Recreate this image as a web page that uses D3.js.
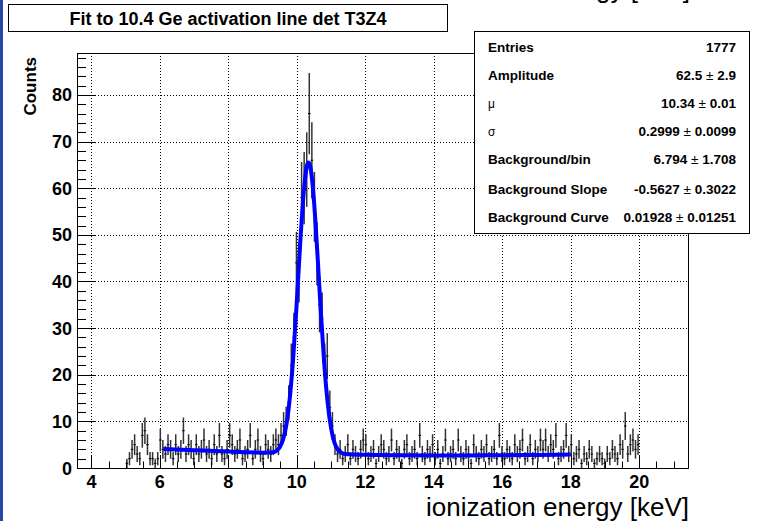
<!DOCTYPE html>
<html><head><meta charset="utf-8">
<script src="https://cdn.jsdelivr.net/npm/d3@7"></script>
<style>body{margin:0;background:#fff}svg{display:block}</style>
</head><body>
<svg id="c" width="759" height="521"></svg>
<script>
// ---------------- data ----------------
const binStart = 5.0;      // keV, low edge of first bin
const binWidth = 0.075;    // keV
const counts = [
  1,2,4,5,3,2,7,8,5,2,2,1,2,
  6,4,3,5,4,2,5,3,4,8,3,5,4,2,5,3,4,6,3,4,2,5,3,7,3,2,4,7,5,3,4,6,2,3,4,7,2,4,6,3,2,5,4,3,5,
  6,5,7,9,10,14,22,28,44,42,58,60,64,76,66,56,46,35,32,22,24,13,9,5,3,4,
  2,3,5,2,4,3,2,4,6,5,2,3,4,1,3,5,
  4,2,3,6,2,4,3,1,4,5,
  2,3,4,2,7,3,2,4,3,5,
  2,4,1,3,6,2,3,4,2,6,
  3,2,4,3,1,5,3,2,4,3,
  5,2,3,4,2,7,3,2,4,3,
  2,5,3,4,6,2,3,5,2,4,
  3,6,4,6,3,5,4,7,2,3,
  4,7,3,5,2,3,4,1,3,2,
  4,3,1,2,3,2,1,3,2,4,
  3,2,5,4,9,3,5,6,4,5
];
// fitted curve (keV, counts)
const fitX = [6.1,7,8,9,9.3,9.4,9.5,9.6,9.7,9.8,9.9,10.0,10.1,10.2,10.3,10.34,10.4,10.5,10.6,10.7,10.8,10.9,11.0,11.1,11.2,11.3,11.4,12,13,14,15,16,17,18];
const fitY = [4.08,3.80,3.53,3.29,3.38,3.67,4.43,6.15,9.56,15.5,24.4,36.0,48.5,59.1,65.0,65.5,64.3,57.2,45.9,33.4,22.3,13.9,8.5,5.4,3.9,3.3,3.0,2.82,2.74,2.70,2.69,2.73,2.80,2.91];

const xTicks = [4,6,8,10,12,14,16,18,20];
const yTicks = [0,10,20,30,40,50,60,70,80];
const titleText = "Fit to 10.4 Ge activation line det T3Z4";
const xTitle = "ionization energy [keV]";
const yTitle = "Counts";
const statsLabels = ["Entries","Amplitude","\u03bc","\u03c3","Background/bin","Background Slope","Background Curve"];
const statsVal = ["1777","62.5","10.34","0.2999","6.794","-0.5627","0.01928"];
const statsErr = [null,"2.9","0.01","0.0099","1.708","0.3022","0.01251"];

// ---------------- layout ----------------
const F = "'Liberation Sans', Arial, Helvetica, sans-serif";
const svg = d3.select("#c");
const L = 77, R = 688, T = 53, B = 468;
const x = d3.scaleLinear().domain([3.58, 21.42]).range([L, R]);
const y = d3.scaleLinear().domain([0, 89]).range([B, T]);

// left blue strip
svg.append("rect").attr("x",0).attr("y",0).attr("width",3).attr("height",521).attr("fill","#2a45a6");

// clipped fragment of label above
svg.append("text").attr("x",690).attr("y",-2.5).attr("text-anchor","end")
  .attr("font-family",F).attr("font-size",26).attr("fill","#000").text(xTitle);

// grid
const g = svg.append("g");
xTicks.forEach(v => {
  const px = Math.round(x(v)) + 0.5;
  g.append("line").attr("x1",px).attr("x2",px).attr("y1",B).attr("y2",T)
   .attr("stroke","#000").attr("stroke-dasharray","1,2");
});
yTicks.filter(v=>v>0).forEach(v => {
  const py = Math.round(y(v)) + 0.5;
  g.append("line").attr("x1",L).attr("x2",R).attr("y1",py).attr("y2",py)
   .attr("stroke","#000").attr("stroke-dasharray","1,2");
});

// histogram error bars
const hist = svg.append("g");
counts.forEach((c,i) => {
  if (c <= 0) return;
  const xc = binStart + binWidth*(i+0.5);
  const e = Math.sqrt(c);
  hist.append("line").attr("x1",x(xc)).attr("x2",x(xc))
    .attr("y1",y(Math.max(0,c-e))).attr("y2",y(c+e))
    .attr("stroke","#333").attr("stroke-width",1.5);
  hist.append("line").attr("x1",x(xc-binWidth/2)).attr("x2",x(xc+binWidth/2))
    .attr("y1",y(c)).attr("y2",y(c)).attr("stroke","#000").attr("stroke-width",1);
});

// fit curve
const line = d3.line().x((d,i)=>x(fitX[i])).y((d,i)=>y(fitY[i])).curve(d3.curveMonotoneX);
svg.append("path").datum(fitX).attr("d",line).attr("fill","none")
  .attr("stroke","#0000ff").attr("stroke-width",4);

// frame
svg.append("rect").attr("x",L+0.5).attr("y",T+0.5).attr("width",R-L).attr("height",B-T)
  .attr("fill","none").attr("stroke","#000").attr("stroke-width",1);

// ticks: y
const ax = svg.append("g").attr("stroke","#000").attr("stroke-width",1);
d3.range(0, 89, 2).forEach(v => {
  const py = Math.round(y(v)) + 0.5;
  const len = (v % 10 === 0) ? 18 : 9;
  ax.append("line").attr("x1",L).attr("x2",L+len).attr("y1",py).attr("y2",py);
});
// ticks: x
d3.range(4, 21.01, 0.5).forEach(v => {
  const px = Math.round(x(v)) + 0.5;
  const len = (Math.abs(v/2 - Math.round(v/2)) < 1e-6) ? 13 : 6.5;
  ax.append("line").attr("x1",px).attr("x2",px).attr("y1",B).attr("y2",B-len);
});

// tick labels
yTicks.forEach(v => {
  svg.append("text").attr("x",72).attr("y",y(v)+6.5).attr("text-anchor","end")
    .attr("font-family",F).attr("font-weight","bold").attr("font-size",18).text(v);
});
xTicks.forEach(v => {
  svg.append("text").attr("x",x(v)).attr("y",488).attr("text-anchor","middle")
    .attr("font-family",F).attr("font-weight","bold").attr("font-size",18).text(v);
});

// axis titles
svg.append("text").attr("x",R+1).attr("y",515.5).attr("text-anchor","end")
  .attr("font-family",F).attr("font-size",26).text(xTitle);
svg.append("text").attr("transform","translate(36,57) rotate(-90)").attr("text-anchor","end")
  .attr("font-family",F).attr("font-weight","bold").attr("font-size",17).text(yTitle);

// title box
svg.append("rect").attr("x",8.5).attr("y",4.5).attr("width",439).attr("height",27)
  .attr("fill","#fff").attr("stroke","#000");
svg.append("text").attr("x",228).attr("y",25).attr("text-anchor","middle")
  .attr("font-family",F).attr("font-weight","bold").attr("font-size",18).text(titleText);

// stats box
svg.append("rect").attr("x",474.5).attr("y",31.5).attr("width",275).attr("height",202)
  .attr("fill","#fff").attr("stroke","#000");
const rowY = [47,75,103,131,159,189,217];
statsLabels.forEach((s,i) => {
  const greek = (i===2 || i===3);
  svg.append("text").attr("x",488).attr("y",rowY[i]+4.5)
    .attr("font-family",F).attr("font-weight",greek?"normal":"bold").attr("font-size",greek?12:13.5).text(s);
  const t = svg.append("text").attr("x",736).attr("y",rowY[i]+4.5).attr("text-anchor","end")
    .attr("font-family",F).attr("font-weight","bold").attr("font-size",13.5);
  t.append("tspan").text(statsVal[i]);
  if (statsErr[i]) {
    t.append("tspan").attr("font-weight","normal").text(" \u00b1 ");
    t.append("tspan").text(statsErr[i]);
  }
});
</script>
</body></html>
